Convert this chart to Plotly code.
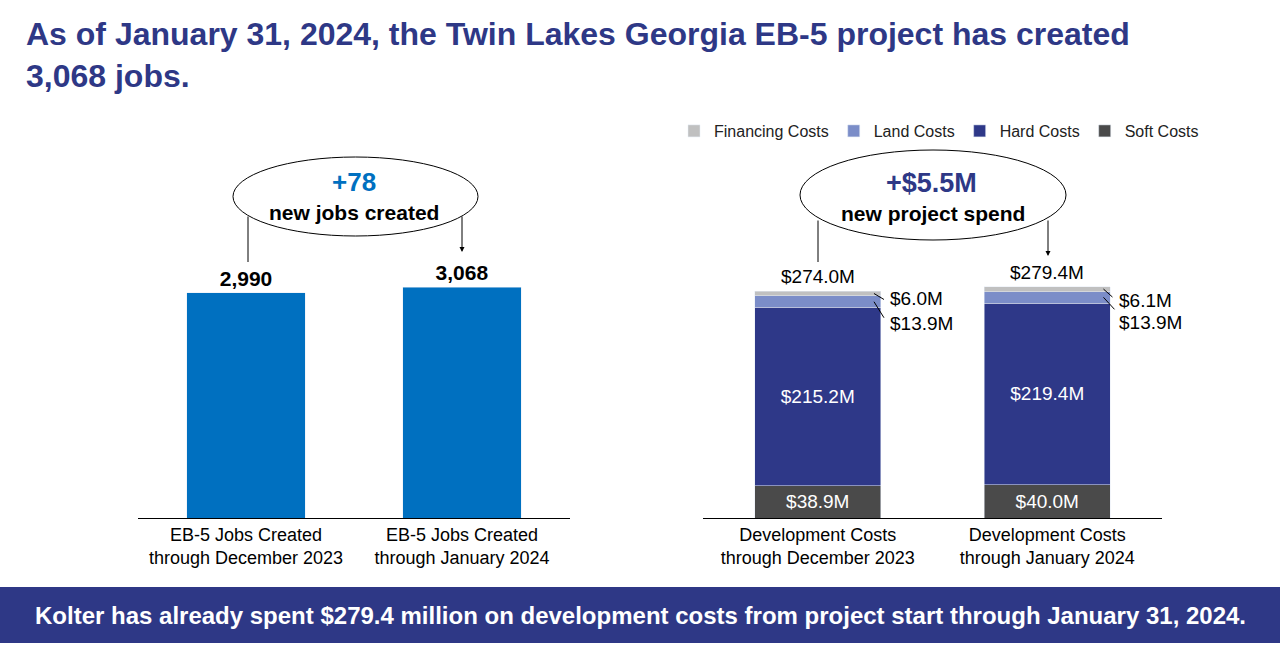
import plotly.graph_objs as go

# jobs chart data
job_cats = ['EB-5 Jobs Created<br>through December 2023', 'EB-5 Jobs Created<br>through January 2024']
jobs = [2990, 3068]

# development cost chart data ($M)
cost_cats = ['Development Costs<br>through December 2023', 'Development Costs<br>through January 2024']
soft_costs = [38.9, 40.0]
hard_costs = [215.2, 219.4]
land_costs = [13.9, 13.9]
financing_costs = [6.0, 6.1]
totals = [274.0, 279.4]

W, H = 1280, 658
FONT = 'Liberation Sans, Arial, sans-serif'
NAVY = '#2e3886'
BLUE = '#0070c0'


def px(x):
    return x / W


def py(y):
    return 1 - y / H


data = [
    go.Bar(x=job_cats, y=jobs, xaxis='x', yaxis='y', width=0.55, marker_color=BLUE,
           texttemplate='<b>%{y:,}</b>', textposition='outside', cliponaxis=False,
           textfont=dict(size=21, color='black'), showlegend=False, hoverinfo='y'),
    go.Bar(x=cost_cats, y=soft_costs, xaxis='x2', yaxis='y2', width=0.55, name='Soft Costs',
           marker_color='#4a4a4a', texttemplate='$%{y:.1f}M', textposition='inside',
           insidetextanchor='middle', textfont=dict(size=19, color='white'), legendrank=4),
    go.Bar(x=cost_cats, y=hard_costs, xaxis='x2', yaxis='y2', width=0.55, name='Hard Costs',
           marker_color='#2e3888', texttemplate='$%{y:.1f}M', textposition='inside',
           insidetextanchor='middle', textfont=dict(size=19, color='white'), legendrank=3),
    go.Bar(x=cost_cats, y=land_costs, xaxis='x2', yaxis='y2', width=0.55, name='Land Costs',
           marker_color='#7b8dc8', textposition='none', legendrank=2),
    go.Bar(x=cost_cats, y=financing_costs, xaxis='x2', yaxis='y2', width=0.55, name='Financing Costs',
           marker_color='#c0c0c0', textposition='none', legendrank=1),
]

annotations = []
shapes = []

# title
annotations.append(dict(x=px(24), y=py(14), xref='paper', yref='paper', xanchor='left', yanchor='top',
                        align='left', showarrow=False,
                        text='<b>As of January 31, 2024, the Twin Lakes Georgia EB-5 project has created<br>3,068 jobs.</b>',
                        font=dict(size=32, color=NAVY)))

# totals above stacked bars
for i, t in enumerate(totals):
    annotations.append(dict(x=cost_cats[i], y=t, xref='x2', yref='y2', text='$%.1fM' % t,
                            showarrow=False, xanchor='center', yanchor='bottom', yshift=2,
                            font=dict(size=19, color='black')))

# side labels for the thin segments, with leader lines
fin_shift = [-5, -11]
land_shift = [-22, -25]
fin_line = [(10, -6), (9, -8)]
land_line = [(10, -16), (11, -12)]
for i in range(len(cost_cats)):
    base = soft_costs[i] + hard_costs[i]
    land_mid = base + land_costs[i] / 2
    fin_mid = base + land_costs[i] + financing_costs[i] / 2
    annotations.append(dict(x=i + 0.275, y=fin_mid, xref='x2', yref='y2', text='$%.1fM' % financing_costs[i],
                            showarrow=False, xanchor='left', yanchor='middle', xshift=7, yshift=fin_shift[i],
                            font=dict(size=19, color='black')))
    annotations.append(dict(x=i + 0.275, y=land_mid, xref='x2', yref='y2', text='$%.1fM' % land_costs[i],
                            showarrow=False, xanchor='left', yanchor='middle', xshift=7, yshift=land_shift[i],
                            font=dict(size=19, color='black')))
    for mid, (dx, dy) in ((fin_mid, fin_line[i]), (land_mid, land_line[i])):
        shapes.append(dict(type='line', xref='x2', yref='y2', xsizemode='pixel', ysizemode='pixel',
                           xanchor=i + 0.245, yanchor=mid, x0=0, x1=dx, y0=0, y1=dy,
                           line=dict(color='black', width=1)))

# callout ellipses
shapes.append(dict(type='circle', xref='paper', yref='paper', x0=px(233), x1=px(478), y0=py(236), y1=py(157),
                   line=dict(color='black', width=1), fillcolor='white', layer='below'))
shapes.append(dict(type='circle', xref='paper', yref='paper', x0=px(800), x1=px(1066), y0=py(240), y1=py(150),
                   line=dict(color='black', width=1), fillcolor='white', layer='below'))

callouts = [
    (354, 182, '<b>+78</b>', 26, BLUE),
    (354, 212, '<b>new jobs created</b>', 21, 'black'),
    (931, 183, '<b>+$5.5M</b>', 27, NAVY),
    (933, 213, '<b>new project spend</b>', 21, 'black'),
]
for x, y, txt, size, color in callouts:
    annotations.append(dict(x=px(x), y=py(y), xref='paper', yref='paper', text=txt, showarrow=False,
                            xanchor='center', yanchor='middle', font=dict(size=size, color=color)))

# connector lines and arrows from the callouts
for x, y_tip, y_tail, head in [(248, 262, 215, 0), (462, 252, 215, 2), (818, 262, 219, 0), (1048, 256, 219, 2)]:
    annotations.append(dict(x=px(x), y=py(y_tip), xref='paper', yref='paper', text='', showarrow=True,
                            ax=0, ay=-(y_tip - y_tail), arrowhead=head, arrowsize=1, arrowwidth=1,
                            arrowcolor='black'))

# bottom banner
shapes.append(dict(type='rect', xref='paper', yref='paper', x0=0, x1=1, y0=py(643), y1=py(587),
                   fillcolor=NAVY, line=dict(width=0), layer='below'))
annotations.append(dict(x=0.5, y=py(615), xref='paper', yref='paper', showarrow=False,
                        xanchor='center', yanchor='middle',
                        text='<b>Kolter has already spent $279.4 million on development costs from project start through January 31, 2024.</b>',
                        font=dict(size=24, color='white')))

axis_common = dict(showline=True, linecolor='black', linewidth=1, ticks='', showgrid=False,
                   tickfont=dict(size=18, color='black'), fixedrange=True, range=[-0.5, 1.5])
yaxis_common = dict(visible=False, showgrid=False, zeroline=False, fixedrange=True)

layout = go.Layout(
    width=W, height=H, margin=dict(l=0, r=0, t=0, b=0),
    paper_bgcolor='white', plot_bgcolor='white',
    font=dict(family=FONT, color='black'),
    barmode='stack',
    xaxis=dict(domain=[px(138), px(570)], anchor='y', **axis_common),
    yaxis=dict(domain=[py(518), py(150)], range=[0, 4890], anchor='x', **yaxis_common),
    xaxis2=dict(domain=[px(703), px(1162)], anchor='y2', **axis_common),
    yaxis2=dict(domain=[py(518), py(150)], range=[0, 444.2], anchor='x2', **yaxis_common),
    legend=dict(orientation='h', x=px(674), y=py(131), xanchor='left', yanchor='middle',
                traceorder='normal', font=dict(size=16, color='#222222'), itemclick=False),
    shapes=shapes,
    annotations=annotations,
)

fig = go.Figure(data=data, layout=layout)
# drop the default page margin so the figure sits at the window's corner
fig.write_html('out.html', config={'displayModeBar': False},
               post_script="document.body.style.margin = '0';")
